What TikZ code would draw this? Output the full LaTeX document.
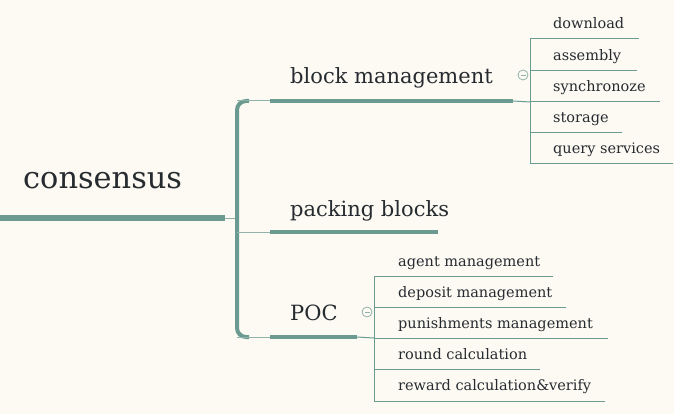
\documentclass[tikz,border=0pt]{standalone}
\usepackage{fontspec}
\setmainfont{DejaVu Serif}
\definecolor{bg}{HTML}{FDFAF3}
\definecolor{teal}{HTML}{6B9A91}
\definecolor{tealL}{HTML}{8FB3AB}
\definecolor{ink}{HTML}{262B30}
\begin{document}
\begin{tikzpicture}[x=1pt,y=-1pt,
  rootlbl/.style={anchor=base west,inner sep=0,text=ink,font=\fontsize{30.4}{30}\selectfont},
  mainlbl/.style={anchor=base west,inner sep=0,text=ink,font=\fontsize{21}{21}\selectfont},
  sublbl/.style={anchor=base west,inner sep=0,text=ink,font=\fontsize{14.5}{14.5}\selectfont},
  thick line/.style={draw=teal,line width=5.5},
  mid line/.style={draw=teal,line width=4},
  thin line/.style={draw=teal,line width=1},
  collapse/.style={circle,draw=tealL,fill=bg,line width=0.8,minimum size=10,inner sep=0}]
\fill[bg] (0,0) rectangle (674,414);
\useasboundingbox (0,0) rectangle (674,414);
% root
\node[rootlbl] (root) at (23,189) {consensus};
\coordinate (r0) at (0,218);
\coordinate (r1) at (225,218);
\coordinate (r2) at (237,218);
\draw[thick line] (r0) -- (r1);
\draw[thin line,draw=tealL] (r1) -- (r2);
% brace
\coordinate (bt) at (237,101);
\coordinate (bb) at (237,337);
\coordinate (bp) at (237,232);
\draw[mid line,rounded corners=9] (249,101) -- (bt) -- (bb) -- (249,337);
% main topics
\coordinate (m1s) at (270,101); \coordinate (m1e) at (513,101);
\coordinate (m2s) at (270,232); \coordinate (m2e) at (438,232);
\coordinate (m3s) at (270,337); \coordinate (m3e) at (357,337);
\draw[thin line,draw=tealL] (bt) -- (m1s);
\draw[thin line,draw=tealL] (bp) -- (m2s);
\draw[thin line,draw=tealL] (bb) -- (m3s);
\draw[mid line] (m1s) -- (m1e);
\draw[mid line] (m2s) -- (m2e);
\draw[mid line] (m3s) -- (m3e);
\node[mainlbl] (bm) at (290,84) {block management};
\node[mainlbl] (pb) at (290,216) {packing blocks};
\node[mainlbl] (poc) at (290,320) {POC};
% block management children
\coordinate (v1t) at (530,39);
\coordinate (v1m) at (530,102);
\coordinate (v1b) at (530,164);
\draw[thin line] (m1e) -- (v1m);
\draw[thin line] (v1t) -- (v1b);
\coordinate (a1) at (530,39);  \coordinate (a1e) at (639,39);
\coordinate (a2) at (530,71);  \coordinate (a2e) at (637,71);
\coordinate (a3) at (530,102); \coordinate (a3e) at (660,102);
\coordinate (a4) at (530,133); \coordinate (a4e) at (622,133);
\coordinate (a5) at (530,164); \coordinate (a5e) at (673,164);
\foreach \i in {1,...,5} {\draw[thin line] (a\i) -- (a\i e);}
\node[sublbl] (s1) at (553,29) {download};
\node[sublbl] (s2) at (553,61) {assembly};
\node[sublbl] (s3) at (553,92) {synchronoze};
\node[sublbl] (s4) at (553,123) {storage};
\node[sublbl] (s5) at (553,154) {query services};
\node[collapse] (c1) at (523,75) {};
\draw[tealL,line width=0.8] ([xshift=-2.5]c1.center) -- ([xshift=2.5]c1.center);
% POC children
\coordinate (v2t) at (374,276);
\coordinate (v2m) at (374,338);
\coordinate (v2b) at (374,401);
\draw[thin line] (m3e) -- (v2m);
\draw[thin line] (v2t) -- (v2b);
\coordinate (b1) at (374,276); \coordinate (b1e) at (553,276);
\coordinate (b2) at (374,307); \coordinate (b2e) at (566,307);
\coordinate (b3) at (374,338); \coordinate (b3e) at (608,338);
\coordinate (b4) at (374,369); \coordinate (b4e) at (540,369);
\coordinate (b5) at (374,401); \coordinate (b5e) at (605,401);
\foreach \i in {1,...,5} {\draw[thin line] (b\i) -- (b\i e);}
\node[sublbl] (p1) at (398,266) {agent management};
\node[sublbl] (p2) at (398,297) {deposit management};
\node[sublbl] (p3) at (398,328) {punishments management};
\node[sublbl] (p4) at (398,359) {round calculation};
\node[sublbl] (p5) at (398,390) {reward calculation\&verify};
\node[collapse] (c2) at (367,312) {};
\draw[tealL,line width=0.8] ([xshift=-2.5]c2.center) -- ([xshift=2.5]c2.center);
\end{tikzpicture}
\end{document}
